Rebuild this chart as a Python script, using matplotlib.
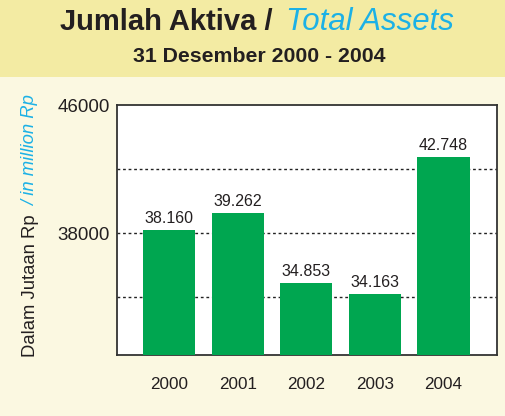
import matplotlib.pyplot as plt
from matplotlib.patches import Rectangle

years = ['2000', '2001', '2002', '2003', '2004']
assets = [38160, 39262, 34853, 34163, 42748]
value_labels = ['38.160', '39.262', '34.853', '34.163', '42.748']
y_ticks = [38000, 46000]
grid_lines = [34000, 38000, 42000]

plt.rcParams['font.family'] = ['Liberation Sans', 'DejaVu Sans']

W, H = 506, 416
fig = plt.figure(figsize=(W / 100, H / 100), dpi=100)
fig.patch.set_facecolor('#fbf8e1')

# title band
fig.patches.append(Rectangle((0, 1 - 77 / H), 1, 77 / H, transform=fig.transFigure,
                             facecolor='#f3eba3', edgecolor='none', zorder=0))

ink = '#231f20'
cyan = '#1cb1e6'
fig.text(281 / W, 1 - 22 / H, 'Jumlah Aktiva / ', ha='right', va='center',
         fontsize=21, fontweight='bold', color=ink)
fig.text(286 / W, 1 - 22 / H, 'Total Assets', ha='left', va='center',
         fontsize=22.5, style='italic', color=cyan)
fig.text(259 / W, 1 - 57 / H, '31 Desember 2000 - 2004', ha='center', va='center',
         fontsize=15.3, fontweight='bold', color=ink)

# y label in two colours
fig.text(31 / W, 1 - 357 / H, 'Dalam Jutaan Rp', rotation=90, ha='center', va='bottom',
         fontsize=13.3, color=ink)
fig.text(31 / W, 1 - 95 / H, '/ in million Rp', rotation=90, ha='center', va='top',
         fontsize=13.3, style='italic', color=cyan)

ax = fig.add_axes([117 / W, 1 - 355 / H, 380 / W, 250 / H])
ax.set_facecolor('white')
x = range(len(years))
ax.bar(x, assets, width=0.76, color='#00a650', zorder=3)
for yv in grid_lines:
    ax.axhline(yv, color='#222222', lw=1, ls=(0, (2, 2)), zorder=1)
for xi, v, lab in zip(x, assets, value_labels):
    ax.text(xi, v + 250, lab, ha='center', va='bottom', fontsize=11.5, color=ink)

ax.set_xlim(-0.76, 4.78)
ax.set_ylim(30375, 46000)
ax.set_yticks(y_ticks)
ax.set_yticklabels([str(t) for t in y_ticks], fontsize=13.5, color=ink)
ax.set_xticks(list(x))
ax.set_xticklabels(years, fontsize=12.3, color=ink)
ax.tick_params(axis='x', length=0, pad=16)
ax.tick_params(axis='y', length=0, pad=5)
for s in ax.spines.values():
    s.set_color('#333333')
    s.set_linewidth(1.3)

fig.savefig('out.png', dpi=100, facecolor=fig.get_facecolor())
